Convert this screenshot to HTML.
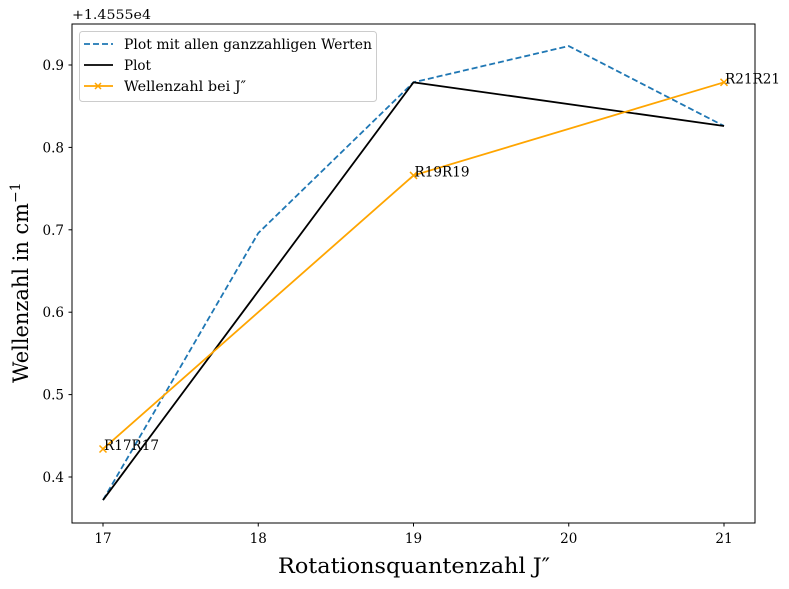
<!DOCTYPE html>
<html><head><meta charset="utf-8"><style>
body{margin:0;background:#fff}
svg{display:block;font-family:"DejaVu Serif","Liberation Serif",serif}
</style></head><body>
<svg id="chart" width="789" height="589" viewBox="0 0 789 589">
<rect x="0" y="0" width="789" height="589" fill="#fff"/>
<g id="marks"></g>
<rect x="72" y="24" width="683" height="499" fill="none" stroke="#000" stroke-width="1"/>
<g id="axes"></g>
<text x="72" y="19" font-size="13" textLength="79" lengthAdjust="spacingAndGlyphs">+1.4555e4</text>
<text x="278" y="573" font-size="21" textLength="272" lengthAdjust="spacingAndGlyphs">Rotationsquantenzahl J″</text>
<text transform="translate(28,383) rotate(-90)" font-size="21"><tspan textLength="180" lengthAdjust="spacingAndGlyphs">Wellenzahl in cm</tspan><tspan dy="-8" font-size="14">−1</tspan></text>
<g>
<rect x="79.5" y="31.5" width="297" height="70" rx="3" fill="#fff" fill-opacity="0.8" stroke="#ccc"/>
<line x1="84" y1="44" x2="113" y2="44" stroke="#1f77b4" stroke-width="1.8" stroke-dasharray="6,3"/>
<text x="124" y="49" font-size="13.5" textLength="248" lengthAdjust="spacingAndGlyphs">Plot mit allen ganzzahligen Werten</text>
<line x1="84" y1="65" x2="113" y2="65" stroke="#000" stroke-width="1.8"/>
<text x="124" y="70" font-size="13.5" textLength="27" lengthAdjust="spacingAndGlyphs">Plot</text>
<line x1="84" y1="86" x2="113" y2="86" stroke="orange" stroke-width="1.8"/>
<path d="M95,83 l6,6 M95,89 l6,-6" stroke="orange" stroke-width="1.5"/>
<text x="124" y="91" font-size="13.5" textLength="122" lengthAdjust="spacingAndGlyphs">Wellenzahl bei J″</text>
</g>
</svg>
<script>
const xTicks=[17,18,19,20,21];
const yTicks=[0.4,0.5,0.6,0.7,0.8,0.9];
const dashedX=[17,18,19,20,21];
const dashedY=[0.372,0.696,0.879,0.923,0.826];
const plotX=[17,19,21];
const plotY=[0.372,0.879,0.826];
const waveX=[17,19,21];
const waveY=[0.434,0.766,0.879];
const waveLabels=["R17R17","R19R19","R21R21"];
const NS="http://www.w3.org/2000/svg";
function sx(v){return 103+(v-17)*155.25;}
function sy(v){return 477-(v-0.4)*824;}
function mk(tag,attrs,parent,text){const e=document.createElementNS(NS,tag);for(const k in attrs)e.setAttribute(k,attrs[k]);if(text!==undefined)e.textContent=text;parent.appendChild(e);return e;}
const axes=document.getElementById('axes'),marks=document.getElementById('marks');
xTicks.forEach(t=>{
 const l=mk('line',{x1:sx(t),x2:sx(t),y1:523,y2:526.5,stroke:'#000'},axes);
 
 
 const tx=mk('text',{x:sx(t),y:543,'font-size':13.5,'text-anchor':'middle'},axes,String(t));
 
 
});
yTicks.forEach(t=>{
 const l=mk('line',{x1:68.5,x2:72,y1:sy(t),y2:sy(t),stroke:'#000'},axes);
 
 
 const tx=mk('text',{x:64,y:sy(t)+5,'font-size':13.5,'text-anchor':'end'},axes,t.toFixed(1));
 
 
});
function pts(xs,ys){return xs.map((x,i)=>sx(x)+','+sy(ys[i])).join(' ');}
const d=mk('polyline',{points:pts(dashedX,dashedY),fill:'none',stroke:'#1f77b4','stroke-width':1.8,'stroke-dasharray':'6,3'},marks);


const p=mk('polyline',{points:pts(plotX,plotY),fill:'none',stroke:'#000','stroke-width':1.8},marks);


const w=mk('polyline',{points:pts(waveX,waveY),fill:'none',stroke:'orange','stroke-width':1.8},marks);


waveX.forEach((x,i)=>{
 const cx=sx(x),cy=sy(waveY[i]);
 const m=mk('path',{d:`M${cx-3.5},${cy-3.5} l7,7 M${cx-3.5},${cy+3.5} l7,-7`,stroke:'orange','stroke-width':1.5},marks);
 
 
 const t=mk('text',{x:cx+1,y:cy+1,'font-size':13.5,textLength:55,lengthAdjust:'spacingAndGlyphs'},marks,waveLabels[i]);
 
 
});
</script>
</body></html>
